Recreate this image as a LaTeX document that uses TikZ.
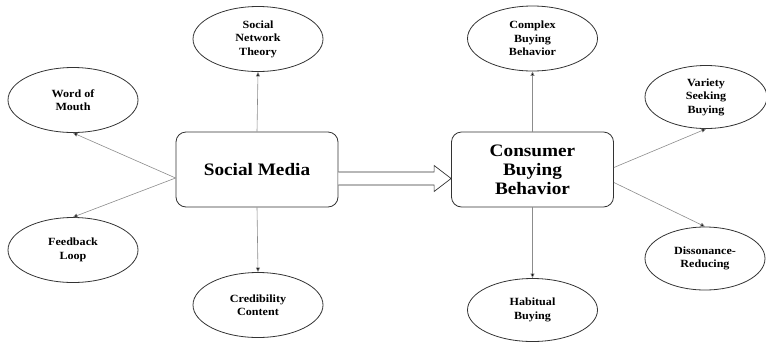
\documentclass[tikz,border=0pt]{standalone}
\usepackage{fontspec}
\setmainfont{Liberation Serif}[FakeStretch=1.1]
\usetikzlibrary{shapes.geometric,calc,arrows.meta}
\begin{document}
\begin{tikzpicture}[x=1pt,y=-1pt,
  concept/.style={ellipse,draw=black!80,line width=0.8pt,inner sep=0pt,
    minimum width=130,minimum height=65,align=center,
    font=\fontsize{11}{13.5}\selectfont\bfseries},
  hub/.style={rectangle,rounded corners=10pt,draw=black!80,line width=0.8pt,
    minimum width=162,minimum height=75,align=center,
    font=\fontsize{17.5}{18.8}\selectfont\bfseries},
  link/.style={draw=black!45,line width=0.6pt,
    -{Triangle[length=4.5pt,width=4pt,fill=black]}},
  fat/.style={draw=black!80,line width=0.7pt,fill=white}]
\useasboundingbox (0,0) rectangle (766,341);

% central boxes
\node[hub] (sm) at (257,169.5) {Social Media};
\node[hub] (cb) at (532.5,169.5) {Consumer\\Buying\\Behavior};

% surrounding concepts
\node[concept] (snt) at (258,39) {Social\\Network\\Theory};
\node[concept] (wom) at (73,100) {Word of\\Mouth};
\node[concept] (fbl) at (73,250) {Feedback\\Loop};
\node[concept] (cred) at (258,305) {Credibility\\Content};
\node[concept] (cbb) at (532.5,38.5) {Complex\\Buying\\Behavior};
\node[concept,minimum width=122,minimum height=63] (vsb) at (706,97) {Variety\\Seeking\\Buying};
\node[concept,minimum width=120,minimum height=63] (drb) at (705,258.5) {Dissonance-\\Reducing};
\node[concept,minimum height=63] (hab) at (532.5,310) {Habitual\\Buying};

% attachment points on the box sides
\coordinate (smL) at ($(sm.west)+(0,8.5)$);
\coordinate (cbR1) at ($(cb.east)+(0,-2)$);
\coordinate (cbR2) at ($(cb.east)+(0,13)$);

% connectors
\draw[link] (sm.north) -- (snt.south);
\draw[link] (sm.south) -- (cred.north);
\draw[link] (smL) -- (wom.south);
\draw[link] (smL) -- (fbl.north);
\draw[link] (cb.north) -- (cbb.south);
\draw[link] (cb.south) -- (hab.north);
\draw[link] (cbR1) -- (vsb.south);
\draw[link] (cbR2) -- (drb.north);

% hollow block arrow between the boxes
\draw[fat] ($(sm.east)+(0,2.5)$) -- ($(cb.west)+(-17,2.5)$)
  -- ($(cb.west)+(-17,-4)$) -- ($(cb.west)+(0,9)$)
  -- ($(cb.west)+(-17,22)$) -- ($(cb.west)+(-17,15.5)$)
  -- ($(sm.east)+(0,15.5)$);
\end{tikzpicture}
\end{document}
